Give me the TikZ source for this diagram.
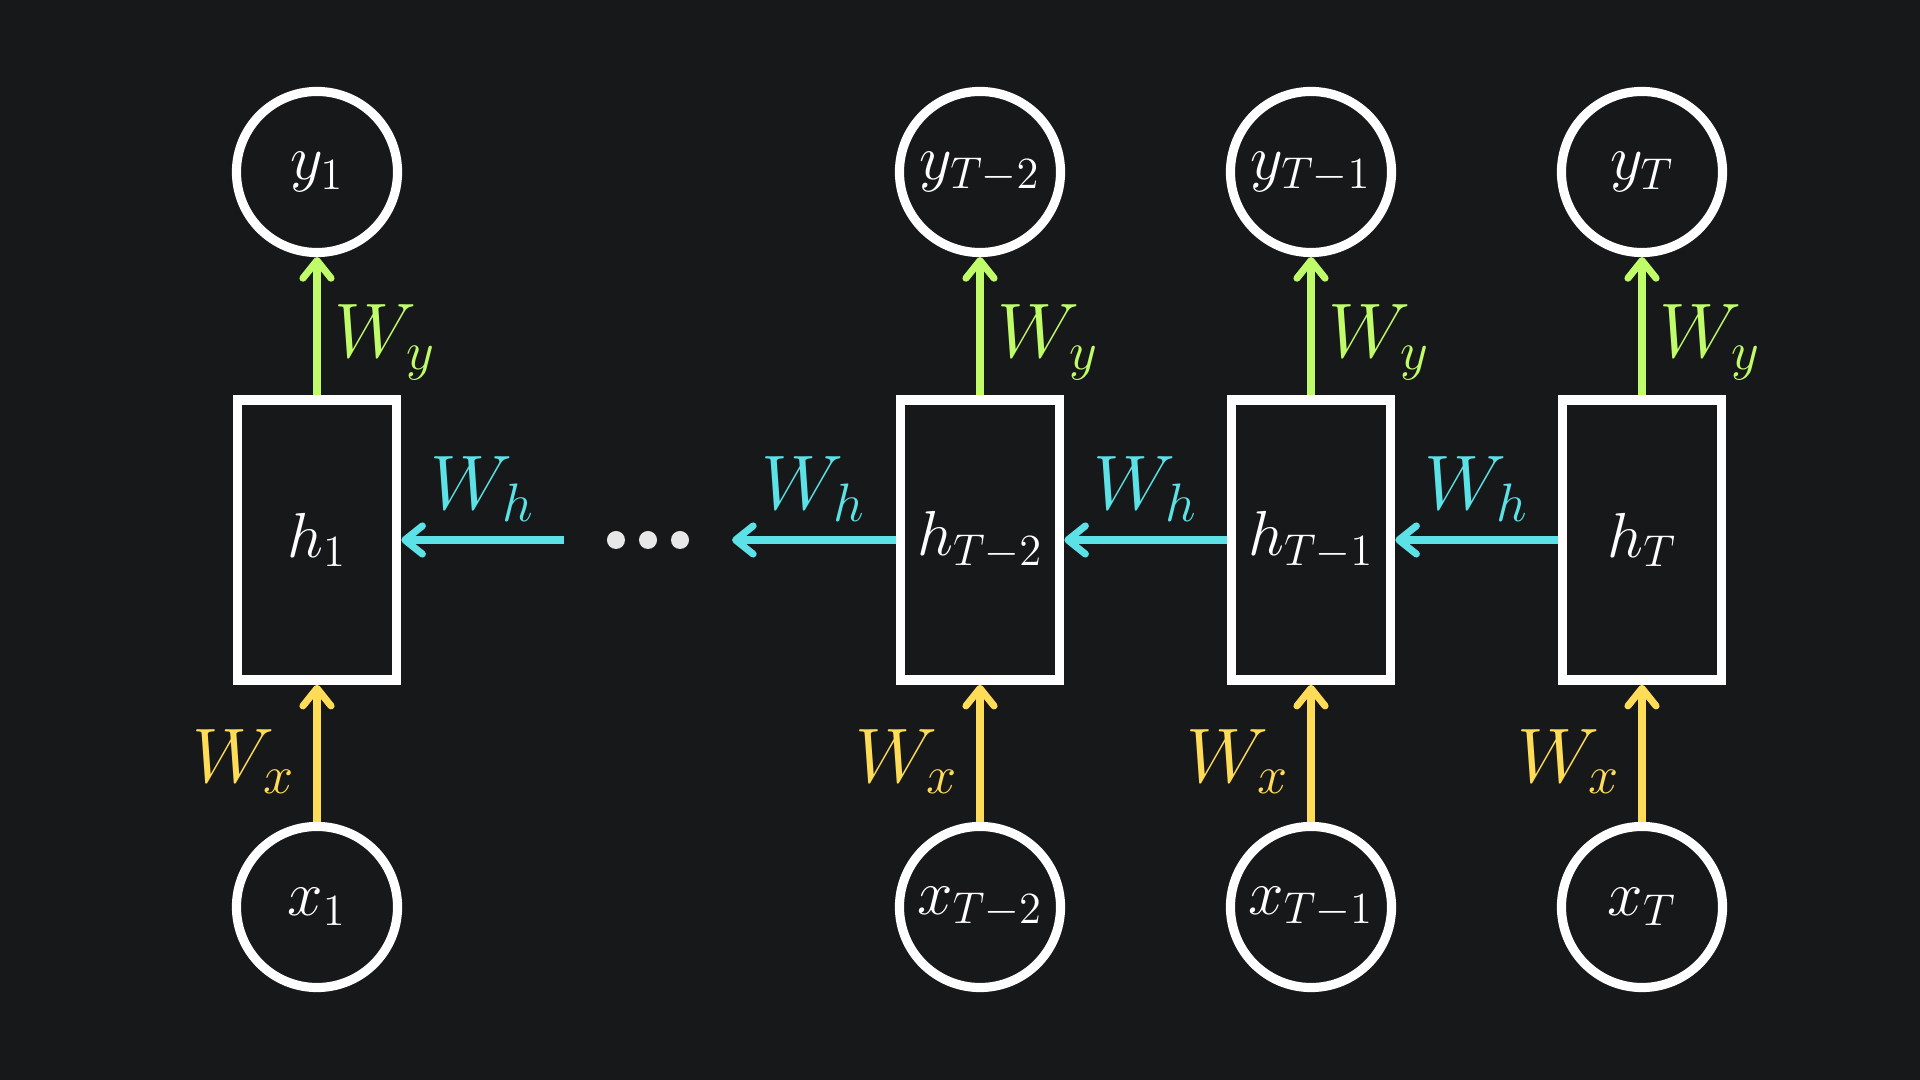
\documentclass[tikz,border=0pt]{standalone}
\usepackage{fix-cm}
\usetikzlibrary{arrows.meta}
\definecolor{bg}{RGB}{23,24,26}
\definecolor{cgreen}{RGB}{192,252,106}
\definecolor{cyellow}{RGB}{255,220,88}
\definecolor{ccyan}{RGB}{92,226,230}
\definecolor{cdot}{RGB}{232,232,232}
\tikzset{
  circ/.style={circle, draw=white, line width=2.6pt, minimum size=1.61cm, inner sep=0pt, text=white, font=\fontsize{18.1}{21}\selectfont},
  hbox/.style={rectangle, draw=white, line width=2.7pt, minimum width=1.59cm, minimum height=2.80cm, inner sep=0pt, text=white, font=\fontsize{18.1}{21}\selectfont},
  gap/.style={rectangle, minimum width=1.68cm, minimum height=2.8cm, inner sep=0pt, outer sep=0pt},
  arr/.style={line width=2pt, -{Straight Barb[round, length=5pt, width=8pt]}},
  lab/.style={inner sep=0pt, font=\fontsize{22}{26}\selectfont},
}
\begin{document}
\begin{tikzpicture}[x=0.01cm, y=-0.01cm]
\path[fill=bg] (0,0) rectangle (1920,1080);
% outputs
\node[circ] (y1) at (317,172) {$y_1$};
\node[circ] (y2) at (980,172) {$y_{T-2}$};
\node[circ] (y3) at (1311,172) {$y_{T-1}$};
\node[circ] (y4) at (1642,172) {$y_T$};
% hidden states
\node[hbox] (h1) at (317,540) {$h_1$};
\node[gap] (hd) at (648,540) {};
\node[hbox] (h2) at (980,540) {$h_{T-2}$};
\node[hbox] (h3) at (1311,540) {$h_{T-1}$};
\node[hbox] (h4) at (1642,540) {$h_T$};
% inputs
\node[circ] (x1) at (317,907) {$x_1$};
\node[circ] (x2) at (980,907) {$x_{T-2}$};
\node[circ] (x3) at (1311,907) {$x_{T-1}$};
\node[circ] (x4) at (1642,907) {$x_T$};
% dots
\fill[cdot] ([xshift=-0.32cm]hd.center) circle[radius=0.09cm];
\fill[cdot] (hd.center) circle[radius=0.09cm];
\fill[cdot] ([xshift=0.32cm]hd.center) circle[radius=0.09cm];
% connectors
\foreach \i in {1,2,3,4}{
  \draw[arr, cgreen] (h\i.north) -- node[lab, text=cgreen, anchor=base west, xshift=0.14cm, yshift=-0.315cm] {$W_y$} (y\i.south);
  \draw[arr, cyellow] (x\i.north) -- node[lab, text=cyellow, anchor=base east, xshift=-0.18cm, yshift=-0.29cm] {$W_x$} (h\i.south);
}
\draw[arr, ccyan] (hd.west) -- node[lab, text=ccyan, anchor=base, yshift=0.3cm] {$W_h$} (h1.east);
\draw[arr, ccyan] (h2.west) -- node[lab, text=ccyan, anchor=base, yshift=0.3cm] {$W_h$} (hd.east);
\draw[arr, ccyan] (h3.west) -- node[lab, text=ccyan, anchor=base, yshift=0.3cm] {$W_h$} (h2.east);
\draw[arr, ccyan] (h4.west) -- node[lab, text=ccyan, anchor=base, yshift=0.3cm] {$W_h$} (h3.east);
\end{tikzpicture}
\end{document}
